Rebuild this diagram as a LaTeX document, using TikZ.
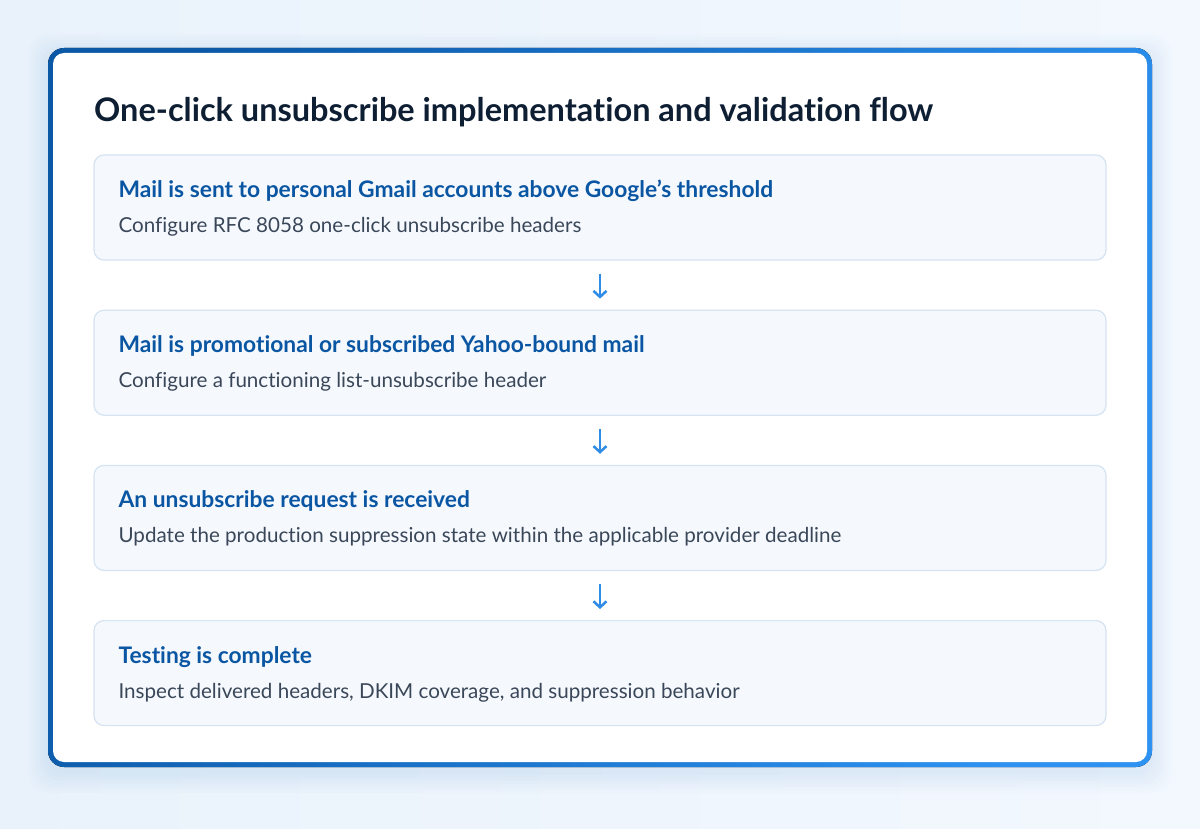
\documentclass[tikz,border=0pt]{standalone}
\usepackage{fontspec}
\setmainfont{Lato}[Ligatures={TeX,NoCommon}]
\usetikzlibrary{shapes,arrows,arrows.meta,positioning}
\definecolor{bgleft}{HTML}{E9F2FB}
\definecolor{bgright}{HTML}{F3F8FE}
\definecolor{framedark}{HTML}{0B58A6}
\definecolor{framelight}{HTML}{2D92F1}
\definecolor{cardfill}{HTML}{F5F9FE}
\definecolor{cardline}{HTML}{D5E3F3}
\definecolor{titlecol}{HTML}{0E1E33}
\definecolor{headcol}{HTML}{0A56A3}
\definecolor{subcol}{HTML}{3A4759}
\definecolor{arrowcol}{HTML}{2E8BE8}
\tikzstyle{card} = [draw=cardline,fill=cardfill,rounded corners=10pt,line width=1.2pt,minimum width=1012pt,minimum height=105pt,inner sep=0pt]
\tikzstyle{head} = [anchor=base west,inner sep=0pt,text=headcol,font=\bfseries\fontsize{22.8}{27}\selectfont]
\tikzstyle{sub} = [anchor=base west,inner sep=0pt,text=subcol,font=\fontsize{20.6}{24}\selectfont]
\tikzstyle{arrow} = [line width=2.5pt,draw=arrowcol,-{Straight Barb[length=6pt,width=13pt]},shorten <=13pt,shorten >=11pt]

\begin{document}
\begin{tikzpicture}[x=1pt,y=-1pt]
  % background and frame
  \fill[left color=bgleft,right color=bgright] (0,0) rectangle (1200,829);
  \useasboundingbox (0,0) rectangle (1200,829);
  \foreach \s in {2,5,...,20}
    \fill[framelight,opacity=0.01,rounded corners=20pt] (48-\s,54-\s) rectangle (1152+\s,773+\s);
  \fill[left color=framedark,right color=framelight,shading angle=70,rounded corners=16pt] (48,48) rectangle (1152,767);
  \fill[white,rounded corners=11pt] (53,53) rectangle (1147,762);

  \node[anchor=base west,inner sep=0pt,text=titlecol,font=\bfseries\fontsize{32.5}{38}\selectfont] (title) at (94,122) {One-click unsubscribe implementation and validation flow};

  % the four steps
  \node[card] (b1) at (600,207.5) {};
  \node[card,below=49pt of b1] (b2) {};
  \node[card,below=49pt of b2] (b3) {};
  \node[card,below=49pt of b3] (b4) {};

  \node[head] (h1) at ([shift={(25,43)}]b1.north west) {Mail is sent to personal Gmail accounts above Google{\char39}s threshold};
  \node[sub] (s1) at ([shift={(25,78)}]b1.north west) {Configure RFC 8058 one-click unsubscribe headers};
  \node[head] (h2) at ([shift={(25,43)}]b2.north west) {Mail is promotional or subscribed Yahoo-bound mail};
  \node[sub] (s2) at ([shift={(25,78)}]b2.north west) {Configure a functioning list-unsubscribe header};
  \node[head] (h3) at ([shift={(25,43)}]b3.north west) {An unsubscribe request is received};
  \node[sub] (s3) at ([shift={(25,78)}]b3.north west) {Update the production suppression state within the applicable provider deadline};
  \node[head] (h4) at ([shift={(25,43)}]b4.north west) {Testing is complete};
  \node[sub] (s4) at ([shift={(25,78)}]b4.north west) {Inspect delivered headers, DKIM coverage, and suppression behavior};

  \draw[arrow] (b1) -- (b2);
  \draw[arrow] (b2) -- (b3);
  \draw[arrow] (b3) -- (b4);
\end{tikzpicture}
\end{document}
